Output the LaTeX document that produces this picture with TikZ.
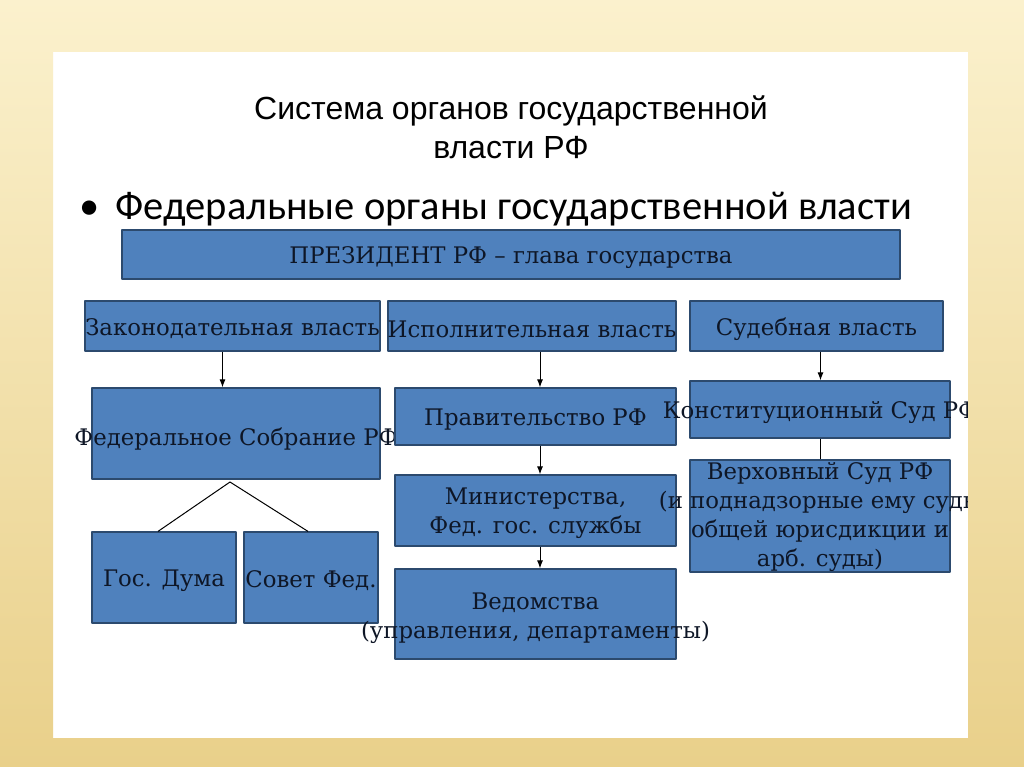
\documentclass[tikz,border=0pt]{standalone}
\usepackage{fontspec}
\setmainfont{DejaVu Serif}
\newfontfamily\titlefont{Liberation Sans}
\newfontfamily\bulletfont{Carlito}
\usetikzlibrary{arrows.meta}
\definecolor{bgtop}{HTML}{FBF1CD}
\definecolor{bgbot}{HTML}{E9D08A}
\definecolor{boxfill}{HTML}{4F81BD}
\definecolor{boxline}{HTML}{2C4A6E}
\definecolor{boxtext}{HTML}{0E1626}
\tikzset{
  organ/.style={draw=boxline,fill=boxfill,line width=1.2pt,inner sep=0pt},
  organtext/.style={text=boxtext,align=center,inner sep=0pt,yshift=-3pt,
    font=\fontsize{22.8}{29}\selectfont},
}
\begin{document}
\begin{tikzpicture}[x=1pt,y=-1pt,>={Latex[length=8pt,width=6pt]},line join=bevel,]
%%
  \fill [white] (0,0) rectangle (1024,767);
  \useasboundingbox (0,0) rectangle (1024,767);

  \node (node_title) at (511,127) [align=center,font=\titlefont\fontsize{32}{39}\selectfont]
    {Система органов государственной\\власти РФ};
  \node (node_bullet) at (76,209) [anchor=west,font=\bulletfont\fontsize{40.5}{44}\selectfont]
    {\textbullet\hspace{16pt}Федеральные органы государственной власти};

  \node (node_pres) at (511,254.5) [organ,minimum width=778,minimum height=49,
    label={[organtext]center:ПРЕЗИДЕНТ РФ – глава государства}] {};

  \node (node_zak) at (232.5,326) [organ,minimum width=295,minimum height=50,
    label={[organtext]center:Законодательная власть}] {};
  \node (node_isp) at (532,326) [organ,minimum width=288,minimum height=50,
    label={[organtext]center:Исполнительная власть}] {};
  \node (node_sud) at (816.5,326) [organ,minimum width=253,minimum height=50,
    label={[organtext]center:Судебная власть}] {};

  \node (node_fs) at (236,433.5) [organ,minimum width=288,minimum height=91,
    label={[organtext,yshift=-3pt]center:Федеральное Собрание РФ}] {};
  \node (node_duma) at (164,577.5) [organ,minimum width=144,minimum height=91,
    label={[organtext]center:Гос. Дума}] {};
  \node (node_sovet) at (311,577.5) [organ,minimum width=134,minimum height=91,
    label={[organtext]center:Совет Фед.}] {};

  \node (node_prav) at (535.5,416.5) [organ,minimum width=281,minimum height=57,
    label={[organtext]center:Правительство РФ}] {};
  \node (node_min) at (535.5,510.5) [organ,minimum width=281,minimum height=71,
    label={[organtext]center:Министерства,\\Фед. гос. службы}] {};
  \node (node_ved) at (535.5,614) [organ,minimum width=281,minimum height=90,
    label={[organtext,yshift=-1pt]center:Ведомства\\(управления, департаменты)}] {};

  \node (node_ks) at (820,409.5) [organ,minimum width=260,minimum height=57,
    label={[organtext]center:Конституционный Суд РФ}] {};
  \node (node_vs) at (820,516) [organ,minimum width=260,minimum height=112,
    label={[organtext,yshift=2pt]center:Верховный Суд РФ\\(и поднадзорные ему суды\\общей юрисдикции и\\арб. суды)}] {};

  \coordinate (fs_fork) at (230,482);

  \draw [black,line width=1pt,->] ([xshift=-10pt]node_zak.south) -- ([xshift=-10pt]node_zak.south |- node_fs.north);
  \draw [black,line width=1pt,->] ([xshift=8pt]node_isp.south) -- ([xshift=8pt]node_isp.south |- node_prav.north);
  \draw [black,line width=1pt,->] ([xshift=4pt]node_sud.south) -- ([xshift=4pt]node_sud.south |- node_ks.north);
  \draw [black,line width=1pt,->] ([xshift=4.5pt]node_prav.south) -- ([xshift=4.5pt]node_min.north);
  \draw [black,line width=1pt,->] ([xshift=4.5pt]node_min.south) -- ([xshift=4.5pt]node_ved.north);
  \draw [black,line width=1pt] (node_ks.south) -- (node_vs.north);
  \draw [black,line width=1pt] ([xshift=-6pt]node_duma.north) -- (fs_fork) -- ([xshift=-3pt]node_sovet.north);

  %% frame round the slide
  \shade [top color=bgtop,bottom color=bgbot,even odd rule]
    (0,0) rectangle (1024,767) (53,52) rectangle (968,738);

\end{tikzpicture}
\end{document}
